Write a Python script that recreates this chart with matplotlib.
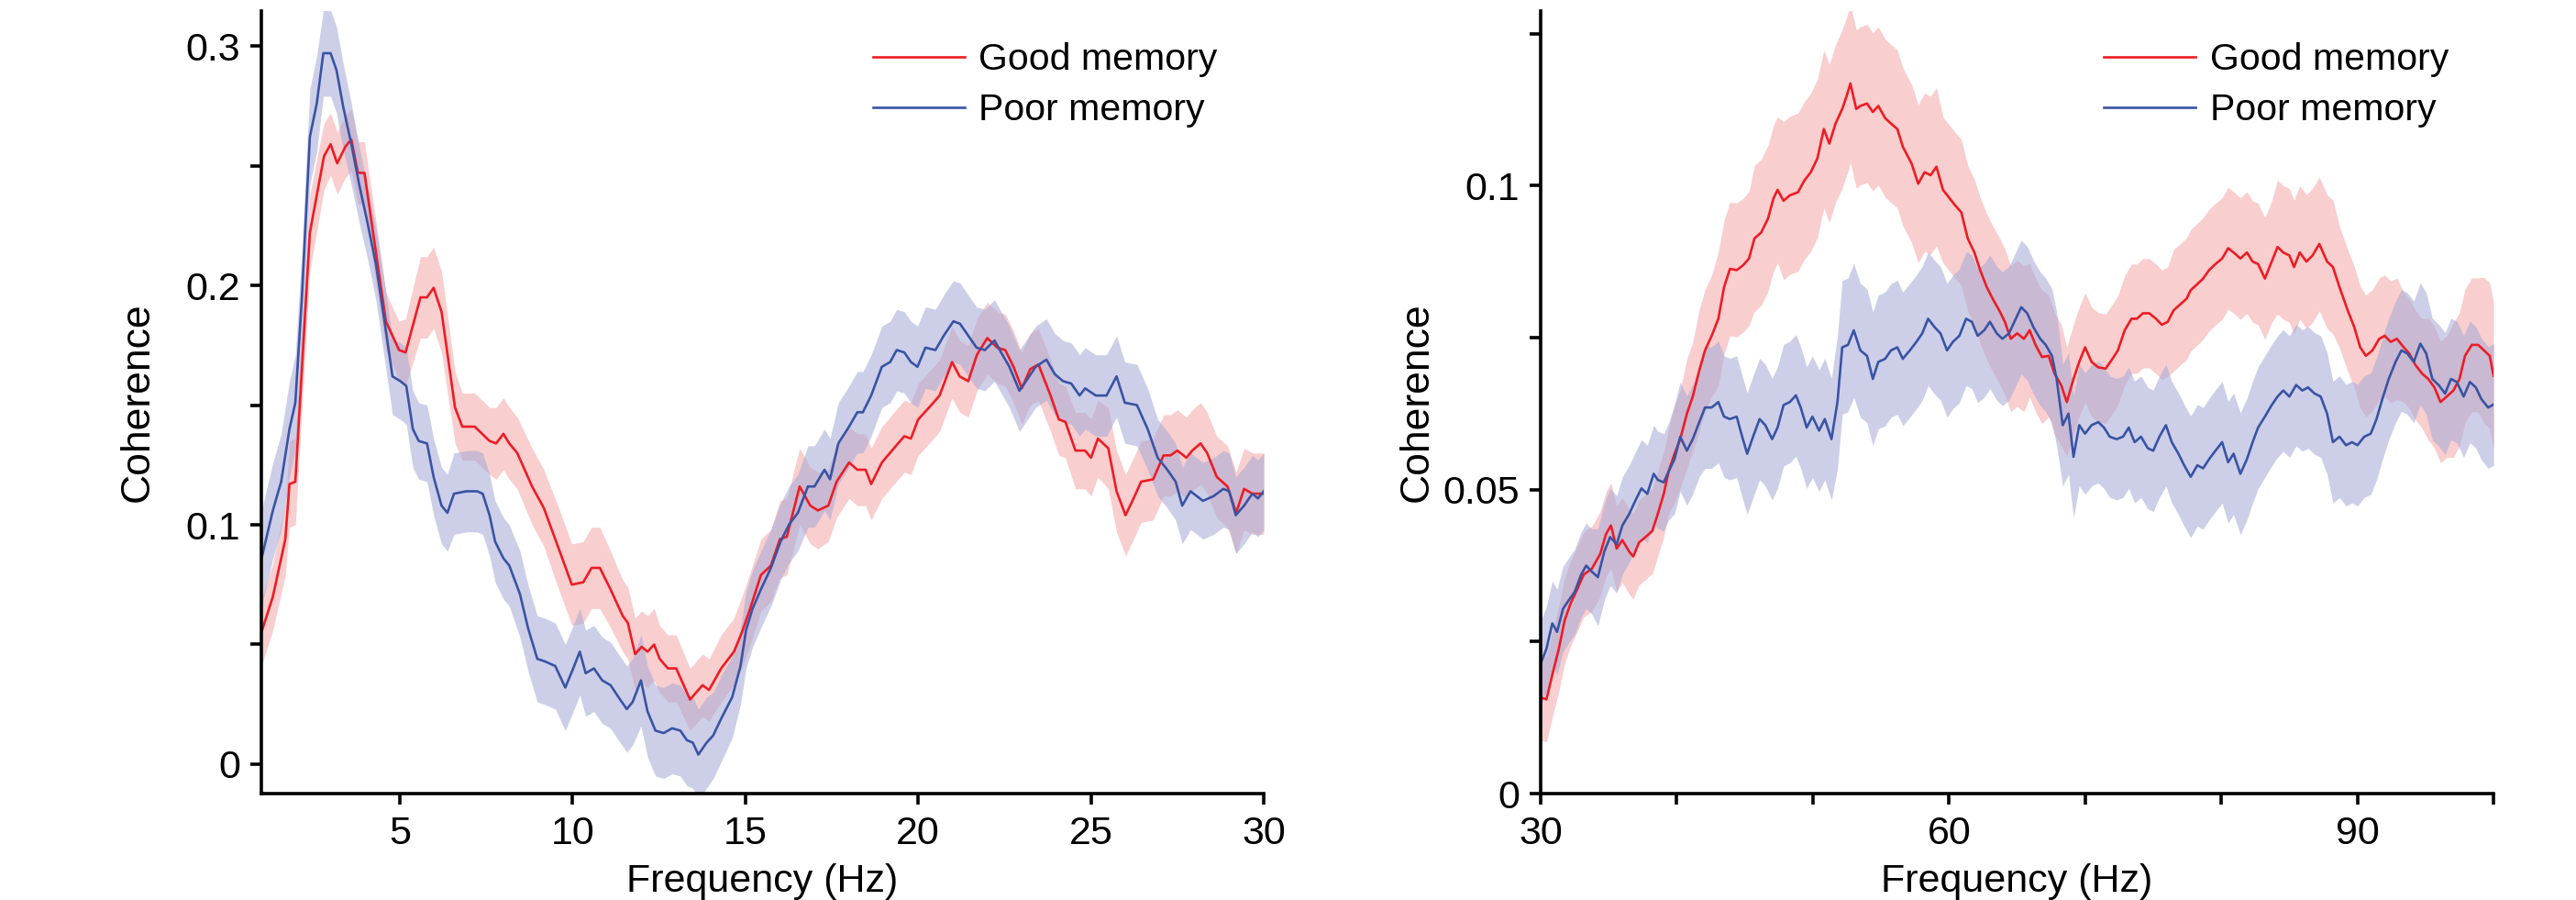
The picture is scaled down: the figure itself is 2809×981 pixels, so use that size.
"""
Coherence spectra, good vs poor memory groups (low and high frequency bands).
"""
import numpy as np
import matplotlib
matplotlib.use("Agg")
import matplotlib.pyplot as plt

plt.rcParams["font.family"] = ["Liberation Sans", "DejaVu Sans"]

RED = "#ed1c24"
BLUE = "#3953a4"
RED_FILL = "#f4a6a9"
BLUE_FILL = "#a5a8d6"

# --- low band (1-30 Hz), good memory ---
freq_good_lo = [1.02, 1.33, 1.69, 1.81, 1.98, 2.40, 2.81, 3.0, 3.19, 3.43,
                3.60, 3.79, 3.98, 4.31, 4.60, 4.98, 5.17, 5.6, 5.79, 5.98,
                6.21, 6.6, 6.81, 7.17, 7.6, 7.79, 8.0, 8.17, 8.4, 8.83,
                9.17, 9.55, 9.98, 10.31, 10.55, 10.79, 11.1, 11.45, 11.6, 11.81,
                12.0, 12.17, 12.36, 12.52, 12.76, 13.0, 13.4, 13.76, 13.95, 14.3,
                14.67, 14.9, 15.14, 15.45, 15.74, 16.0, 16.2, 16.57, 16.88, 17.1,
                17.4, 17.64, 18.0, 18.24, 18.48, 18.64, 18.95, 19.3, 19.6, 19.79,
                20.0, 20.38, 20.62, 20.98, 21.2, 21.45, 21.7, 22.0, 22.29, 22.52,
                22.76, 23.0, 23.24, 23.48, 23.83, 24.07, 24.26, 24.55, 24.83, 25.0,
                25.2, 25.5, 25.74, 26.0, 26.2, 26.45, 26.8, 27.1, 27.3, 27.5,
                27.76, 27.93, 28.17, 28.36, 28.64, 28.95, 29.2, 29.43, 29.67, 30.0]
coh_good_lo = [0.056, 0.070, 0.094, 0.117, 0.118, 0.222, 0.254, 0.259, 0.251, 0.258,
               0.261, 0.247, 0.247, 0.214, 0.185, 0.173, 0.172, 0.195, 0.195, 0.199,
               0.189, 0.149, 0.141, 0.141, 0.135, 0.134, 0.138, 0.134, 0.130, 0.116,
               0.107, 0.092, 0.075, 0.076, 0.082, 0.082, 0.073, 0.062, 0.059, 0.046,
               0.049, 0.047, 0.050, 0.044, 0.040, 0.040, 0.027, 0.033, 0.031, 0.040,
               0.047, 0.055, 0.065, 0.079, 0.083, 0.094, 0.095, 0.116, 0.108, 0.106,
               0.108, 0.118, 0.126, 0.123, 0.123, 0.117, 0.126, 0.132, 0.137, 0.136,
               0.144, 0.150, 0.154, 0.168, 0.162, 0.160, 0.171, 0.178, 0.174, 0.173,
               0.166, 0.157, 0.165, 0.167, 0.154, 0.144, 0.143, 0.131, 0.131, 0.128,
               0.136, 0.132, 0.114, 0.104, 0.110, 0.118, 0.119, 0.129, 0.129, 0.131,
               0.128, 0.131, 0.134, 0.130, 0.120, 0.116, 0.105, 0.115, 0.113, 0.113]
sem_good_lo = [0.014, 0.014, 0.015, 0.018, 0.018, 0.016, 0.014, 0.013, 0.013, 0.013,
               0.013, 0.013, 0.013, 0.013, 0.012, 0.012, 0.014, 0.017, 0.017, 0.017,
               0.017, 0.015, 0.014, 0.014, 0.014, 0.015, 0.015, 0.015, 0.015, 0.016,
               0.016, 0.017, 0.017, 0.017, 0.017, 0.017, 0.016, 0.015, 0.015, 0.015,
               0.015, 0.015, 0.015, 0.014, 0.014, 0.014, 0.013, 0.013, 0.013, 0.014,
               0.014, 0.015, 0.015, 0.015, 0.015, 0.016, 0.016, 0.016, 0.016, 0.016,
               0.015, 0.015, 0.015, 0.015, 0.015, 0.015, 0.015, 0.015, 0.015, 0.015,
               0.015, 0.015, 0.015, 0.015, 0.015, 0.015, 0.015, 0.015, 0.015, 0.015,
               0.015, 0.015, 0.015, 0.015, 0.015, 0.015, 0.015, 0.016, 0.016, 0.016,
               0.016, 0.017, 0.017, 0.017, 0.017, 0.017, 0.017, 0.017, 0.017, 0.017,
               0.017, 0.017, 0.017, 0.017, 0.017, 0.017, 0.017, 0.017, 0.017, 0.017]

# --- low band (1-30 Hz), poor memory ---
freq_poor_lo = [1.02, 1.33, 1.57, 1.81, 1.98, 2.17, 2.40, 2.6, 2.79, 3.0,
                3.17, 3.36, 3.6, 3.83, 4.07, 4.31, 4.55, 4.79, 5.02, 5.19,
                5.38, 5.55, 5.79, 5.98, 6.21, 6.38, 6.57, 6.93, 7.24, 7.4,
                7.6, 7.76, 8.0, 8.17, 8.48, 8.71, 8.98, 9.19, 9.5, 9.79,
                10.02, 10.21, 10.38, 10.62, 10.86, 11.1, 11.33, 11.57, 11.74, 11.98,
                12.17, 12.4, 12.64, 12.88, 13.12, 13.31, 13.48, 13.64, 13.88, 14.07,
                14.3, 14.62, 14.86, 15.02, 15.21, 15.45, 15.74, 16.02, 16.26, 16.52,
                16.81, 17.0, 17.29, 17.45, 17.69, 18.0, 18.24, 18.4, 18.64, 18.95,
                19.19, 19.38, 19.6, 19.79, 19.98, 20.21, 20.5, 20.74, 21.02, 21.21,
                21.45, 21.69, 21.93, 22.21, 22.4, 22.64, 22.93, 23.12, 23.4, 23.71,
                23.95, 24.19, 24.43, 24.67, 24.83, 25.14, 25.45, 25.74, 25.98, 26.33,
                26.64, 26.93, 27.21, 27.45, 27.64, 27.88, 28.24, 28.55, 28.83, 29.0,
                29.19, 29.43, 29.67, 29.83, 30.0]
coh_poor_lo = [0.087, 0.106, 0.118, 0.140, 0.151, 0.195, 0.262, 0.276, 0.297, 0.297,
               0.290, 0.275, 0.259, 0.242, 0.226, 0.209, 0.186, 0.162, 0.160, 0.158,
               0.140, 0.135, 0.134, 0.120, 0.108, 0.105, 0.113, 0.114, 0.114, 0.113,
               0.104, 0.093, 0.086, 0.083, 0.071, 0.057, 0.044, 0.043, 0.041, 0.032,
               0.040, 0.047, 0.038, 0.040, 0.035, 0.033, 0.028, 0.023, 0.026, 0.035,
               0.022, 0.014, 0.013, 0.015, 0.014, 0.010, 0.009, 0.004, 0.009, 0.012,
               0.019, 0.028, 0.041, 0.056, 0.065, 0.073, 0.082, 0.093, 0.100, 0.105,
               0.116, 0.116, 0.123, 0.119, 0.134, 0.141, 0.147, 0.147, 0.154, 0.166,
               0.168, 0.173, 0.172, 0.168, 0.166, 0.174, 0.173, 0.179, 0.185, 0.184,
               0.179, 0.174, 0.173, 0.177, 0.172, 0.166, 0.156, 0.160, 0.166, 0.169,
               0.163, 0.160, 0.159, 0.154, 0.157, 0.154, 0.154, 0.162, 0.151, 0.150,
               0.140, 0.128, 0.123, 0.118, 0.108, 0.114, 0.110, 0.112, 0.115, 0.114,
               0.104, 0.108, 0.113, 0.111, 0.114]
sem_poor_lo = [0.020, 0.020, 0.020, 0.020, 0.020, 0.020, 0.020, 0.020, 0.018, 0.018,
               0.018, 0.018, 0.017, 0.016, 0.015, 0.015, 0.016, 0.016, 0.016, 0.016,
               0.016, 0.016, 0.016, 0.016, 0.016, 0.016, 0.017, 0.017, 0.017, 0.017,
               0.017, 0.017, 0.017, 0.017, 0.018, 0.018, 0.018, 0.018, 0.018, 0.018,
               0.018, 0.018, 0.018, 0.018, 0.018, 0.018, 0.018, 0.018, 0.018, 0.019,
               0.019, 0.019, 0.019, 0.019, 0.019, 0.019, 0.019, 0.019, 0.019, 0.018,
               0.018, 0.017, 0.016, 0.016, 0.016, 0.016, 0.016, 0.016, 0.016, 0.016,
               0.017, 0.017, 0.017, 0.017, 0.017, 0.017, 0.017, 0.017, 0.017, 0.017,
               0.017, 0.017, 0.017, 0.017, 0.017, 0.017, 0.017, 0.017, 0.017, 0.017,
               0.017, 0.017, 0.017, 0.017, 0.017, 0.017, 0.017, 0.017, 0.017, 0.017,
               0.017, 0.017, 0.017, 0.017, 0.017, 0.017, 0.017, 0.017, 0.017, 0.017,
               0.017, 0.016, 0.016, 0.016, 0.016, 0.016, 0.016, 0.016, 0.016, 0.016,
               0.016, 0.016, 0.016, 0.016, 0.016]

# --- high band (30-100 Hz), good memory ---
freq_good_hi = [30.0, 30.42, 30.9, 31.33, 31.76, 32.2, 32.7, 33.15, 33.76, 34.37,
                34.8, 35.16, 35.58, 36.0, 36.5, 36.8, 37.22, 37.7, 38.2, 38.6,
                39.04, 39.4, 39.83, 40.25, 40.74, 41.17, 41.65, 42.07, 42.56, 43.05,
                43.47, 43.9, 44.4, 44.87, 45.3, 45.7, 46.2, 46.7, 47.1, 47.4,
                47.84, 48.3, 48.9, 49.36, 49.84, 50.33, 50.8, 51.2, 51.66, 52.15,
                52.5, 52.75, 53.18, 53.48, 53.97, 54.4, 54.8, 55.3, 55.73, 56.2,
                56.6, 57.25, 57.73, 58.2, 58.64, 59.07, 59.55, 60.04, 60.46, 60.9,
                61.37, 61.86, 62.28, 62.77, 63.2, 63.68, 64.1, 64.53, 65.0, 65.5,
                65.92, 66.35, 66.83, 67.32, 67.74, 68.23, 68.65, 69.14, 69.56, 69.99,
                70.47, 70.96, 71.5, 72.0, 72.4, 72.9, 73.4, 73.8, 74.24, 74.7,
                75.2, 75.63, 76.06, 76.5, 77.0, 77.45, 77.75, 78.24, 78.66, 79.1,
                79.57, 80.06, 80.5, 80.9, 81.4, 81.88, 82.3, 82.7, 83.2, 83.7,
                84.13, 84.55, 85.0, 85.34, 85.76, 86.25, 86.7, 87.2, 87.77, 88.2,
                88.68, 89.28, 89.77, 90.2, 90.62, 91.1, 91.6, 92.0, 92.44, 92.9,
                93.4, 93.8, 94.26, 94.74, 95.2, 95.66, 96.1, 96.56, 97.05, 97.5,
                97.9, 98.4, 98.87, 99.3, 99.72, 100.0]
coh_good_hi = [0.0158, 0.0155, 0.0200, 0.0238, 0.0285, 0.0313, 0.0337, 0.0360, 0.0370, 0.0394,
               0.0427, 0.0441, 0.0403, 0.0417, 0.0398, 0.0390, 0.0413, 0.0422, 0.0432, 0.0460,
               0.0493, 0.0530, 0.0559, 0.0583, 0.0625, 0.0653, 0.0696, 0.0729, 0.0753, 0.0781,
               0.0833, 0.0863, 0.0861, 0.0869, 0.0880, 0.0913, 0.0923, 0.0946, 0.0979, 0.0993,
               0.0975, 0.0984, 0.0989, 0.1008, 0.1022, 0.1045, 0.1093, 0.1069, 0.1102, 0.1126,
               0.1149, 0.1168, 0.1126, 0.1131, 0.1135, 0.1121, 0.1131, 0.1111, 0.1102, 0.1093,
               0.1064, 0.1036, 0.1003, 0.1022, 0.1017, 0.1031, 0.0993, 0.0979, 0.0967, 0.0956,
               0.0913, 0.0890, 0.0861, 0.0833, 0.0814, 0.0795, 0.0776, 0.0748, 0.0757, 0.0748,
               0.0762, 0.0738, 0.0718, 0.0720, 0.0691, 0.0672, 0.0644, 0.0682, 0.0710, 0.0734,
               0.0710, 0.0701, 0.0699, 0.0715, 0.0729, 0.0762, 0.0781, 0.0781, 0.0790, 0.0790,
               0.0781, 0.0771, 0.0776, 0.0795, 0.0805, 0.0814, 0.0828, 0.0838, 0.0847, 0.0861,
               0.0871, 0.0880, 0.0897, 0.0890, 0.0880, 0.0890, 0.0875, 0.0871, 0.0847, 0.0875,
               0.0899, 0.0890, 0.0885, 0.0866, 0.0890, 0.0875, 0.0885, 0.0904, 0.0875, 0.0866,
               0.0833, 0.0795, 0.0767, 0.0734, 0.0720, 0.0729, 0.0748, 0.0753, 0.0743, 0.0748,
               0.0734, 0.0724, 0.0705, 0.0691, 0.0682, 0.0668, 0.0644, 0.0653, 0.0663, 0.0682,
               0.0720, 0.0738, 0.0738, 0.0729, 0.0720, 0.0687]
sem_good_hi = [0.007, 0.007, 0.007, 0.007, 0.007, 0.007, 0.007, 0.007, 0.007, 0.007,
               0.007, 0.007, 0.007, 0.007, 0.007, 0.007, 0.007, 0.007, 0.007, 0.007,
               0.007, 0.007, 0.008, 0.008, 0.009, 0.009, 0.010, 0.010, 0.010, 0.011,
               0.011, 0.011, 0.011, 0.011, 0.011, 0.012, 0.012, 0.012, 0.012, 0.012,
               0.013, 0.013, 0.013, 0.013, 0.013, 0.013, 0.013, 0.013, 0.013, 0.013,
               0.013, 0.013, 0.013, 0.013, 0.013, 0.013, 0.013, 0.013, 0.013, 0.013,
               0.013, 0.013, 0.013, 0.013, 0.013, 0.013, 0.012, 0.012, 0.012, 0.012,
               0.012, 0.012, 0.012, 0.012, 0.012, 0.012, 0.012, 0.012, 0.012, 0.012,
               0.011, 0.011, 0.011, 0.010, 0.010, 0.010, 0.009, 0.009, 0.009, 0.009,
               0.009, 0.009, 0.009, 0.009, 0.009, 0.009, 0.009, 0.009, 0.009, 0.009,
               0.009, 0.009, 0.009, 0.010, 0.010, 0.010, 0.010, 0.010, 0.010, 0.010,
               0.010, 0.010, 0.010, 0.010, 0.010, 0.010, 0.010, 0.010, 0.010, 0.010,
               0.011, 0.011, 0.011, 0.011, 0.011, 0.011, 0.011, 0.011, 0.011, 0.011,
               0.010, 0.010, 0.010, 0.010, 0.010, 0.010, 0.010, 0.010, 0.010, 0.010,
               0.009, 0.009, 0.009, 0.009, 0.010, 0.010, 0.010, 0.010, 0.011, 0.011,
               0.011, 0.011, 0.011, 0.012, 0.012, 0.012]

# --- high band (30-100 Hz), poor memory ---
freq_poor_hi = [30.0, 30.42, 30.85, 31.2, 31.64, 32.06, 32.5, 32.97, 33.34, 33.76,
                34.2, 34.67, 35.1, 35.58, 36.0, 36.5, 36.98, 37.4, 37.83, 38.3,
                38.6, 39.04, 39.4, 39.83, 40.25, 40.74, 41.17, 41.65, 42.07, 42.56,
                43.05, 43.47, 43.9, 44.4, 44.8, 45.17, 45.6, 46.08, 46.5, 47.0,
                47.4, 47.84, 48.3, 48.75, 49.1, 49.54, 49.96, 50.45, 50.87, 51.36,
                51.8, 52.15, 52.57, 53.0, 53.48, 53.97, 54.4, 54.8, 55.3, 55.73,
                56.2, 56.6, 57.12, 57.6, 58.03, 58.46, 58.94, 59.37, 59.85, 60.28,
                60.76, 61.25, 61.67, 62.1, 62.58, 63.0, 63.5, 63.92, 64.4, 64.9,
                65.3, 65.74, 66.2, 66.7, 67.1, 67.56, 67.9, 68.35, 68.77, 69.14,
                69.56, 69.99, 70.47, 70.96, 71.38, 71.8, 72.3, 72.78, 73.2, 73.63,
                74.1, 74.6, 75.0, 75.45, 75.93, 76.36, 76.85, 77.27, 77.75, 78.24,
                78.66, 79.1, 79.57, 80.06, 80.5, 80.9, 81.4, 81.88, 82.3, 82.7,
                83.2, 83.7, 84.13, 84.55, 85.0, 85.5, 85.95, 86.37, 86.85, 87.3,
                87.77, 88.2, 88.68, 89.16, 89.6, 90.0, 90.5, 90.98, 91.4, 91.83,
                92.3, 92.8, 93.23, 93.65, 94.14, 94.62, 95.05, 95.5, 95.96, 96.44,
                96.87, 97.3, 97.8, 98.26, 98.7, 99.1, 99.6, 100.0]
coh_poor_hi = [0.0214, 0.0238, 0.0280, 0.0266, 0.0304, 0.0318, 0.0332, 0.0360, 0.0375, 0.0365,
               0.0356, 0.0398, 0.0422, 0.0410, 0.0441, 0.0460, 0.0483, 0.0502, 0.0493, 0.0526,
               0.0516, 0.0512, 0.0530, 0.0550, 0.0587, 0.0564, 0.0583, 0.0611, 0.0635, 0.0635,
               0.0644, 0.0620, 0.0616, 0.0620, 0.0587, 0.0559, 0.0587, 0.0616, 0.0606, 0.0583,
               0.0602, 0.0639, 0.0644, 0.0655, 0.0635, 0.0602, 0.0620, 0.0597, 0.0616, 0.0583,
               0.0644, 0.0734, 0.0738, 0.0762, 0.0729, 0.0720, 0.0682, 0.0710, 0.0715, 0.0729,
               0.0734, 0.0715, 0.0729, 0.0743, 0.0757, 0.0781, 0.0767, 0.0757, 0.0729, 0.0743,
               0.0753, 0.0781, 0.0776, 0.0753, 0.0762, 0.0776, 0.0757, 0.0748, 0.0757, 0.0781,
               0.0800, 0.0790, 0.0767, 0.0748, 0.0738, 0.0720, 0.0682, 0.0606, 0.0625, 0.0554,
               0.0606, 0.0592, 0.0606, 0.0611, 0.0602, 0.0587, 0.0583, 0.0587, 0.0602, 0.0578,
               0.0587, 0.0568, 0.0564, 0.0587, 0.0606, 0.0578, 0.0559, 0.0540, 0.0521, 0.0540,
               0.0535, 0.0550, 0.0564, 0.0578, 0.0545, 0.0559, 0.0526, 0.0550, 0.0578, 0.0602,
               0.0620, 0.0639, 0.0653, 0.0663, 0.0653, 0.0672, 0.0663, 0.0668, 0.0658, 0.0653,
               0.0625, 0.0578, 0.0587, 0.0573, 0.0578, 0.0573, 0.0587, 0.0592, 0.0616, 0.0649,
               0.0682, 0.0710, 0.0729, 0.0724, 0.0710, 0.0740, 0.0724, 0.0682, 0.0672, 0.0658,
               0.0682, 0.0677, 0.0653, 0.0677, 0.0668, 0.0649, 0.0635, 0.0640]
sem_poor_hi = [0.007, 0.007, 0.007, 0.007, 0.007, 0.007, 0.007, 0.007, 0.007, 0.007,
               0.008, 0.008, 0.008, 0.008, 0.008, 0.008, 0.008, 0.008, 0.008, 0.008,
               0.008, 0.008, 0.008, 0.009, 0.009, 0.009, 0.009, 0.009, 0.010, 0.010,
               0.010, 0.010, 0.010, 0.010, 0.010, 0.010, 0.010, 0.010, 0.010, 0.010,
               0.010, 0.010, 0.010, 0.010, 0.010, 0.010, 0.010, 0.010, 0.010, 0.010,
               0.011, 0.011, 0.011, 0.011, 0.011, 0.011, 0.011, 0.011, 0.011, 0.011,
               0.011, 0.011, 0.011, 0.011, 0.011, 0.011, 0.011, 0.011, 0.011, 0.011,
               0.011, 0.011, 0.011, 0.011, 0.011, 0.011, 0.011, 0.011, 0.011, 0.011,
               0.011, 0.011, 0.011, 0.011, 0.011, 0.011, 0.011, 0.010, 0.010, 0.010,
               0.010, 0.010, 0.010, 0.010, 0.010, 0.010, 0.010, 0.010, 0.010, 0.010,
               0.010, 0.010, 0.010, 0.010, 0.010, 0.010, 0.010, 0.010, 0.010, 0.010,
               0.010, 0.010, 0.010, 0.010, 0.010, 0.010, 0.010, 0.010, 0.010, 0.010,
               0.010, 0.010, 0.010, 0.010, 0.010, 0.010, 0.010, 0.010, 0.010, 0.010,
               0.010, 0.010, 0.010, 0.010, 0.010, 0.010, 0.010, 0.010, 0.010, 0.010,
               0.010, 0.010, 0.010, 0.010, 0.010, 0.010, 0.010, 0.010, 0.010, 0.010,
               0.010, 0.010, 0.010, 0.010, 0.010, 0.010, 0.010, 0.010]


def style(ax):
    for side in ("top", "right"):
        ax.spines[side].set_visible(False)
    for side in ("left", "bottom"):
        ax.spines[side].set_linewidth(2.6)
    ax.tick_params(which="both", direction="out", length=8.5, width=2.6,
                   labelsize=31, colors="black")
    ax.tick_params(axis="x", pad=9)
    ax.tick_params(axis="y", pad=8)


fig = plt.figure(figsize=(28.09, 9.81), dpi=100)
ax1 = fig.add_axes([0.1015, 0.1182, 0.3891, 0.8695])
ax2 = fig.add_axes([0.5981, 0.1182, 0.3699, 0.8695])

panels = [
    (ax1, [(freq_good_lo, coh_good_lo, sem_good_lo), (freq_poor_lo, coh_poor_lo, sem_poor_lo)]),
    (ax2, [(freq_good_hi, coh_good_hi, sem_good_hi), (freq_poor_hi, coh_poor_hi, sem_poor_hi)]),
]
labels = ["Good memory", "Poor memory"]
for ax, series in panels:
    # shaded error bands first, mean lines on top
    for (f, m, s), fc in zip(series, [RED_FILL, BLUE_FILL]):
        m, s = np.asarray(m), np.asarray(s)
        ax.fill_between(f, m - s, m + s, color=fc, alpha=0.55, lw=0)
    for (f, m, s), lc, lab in zip(series, [RED, BLUE], labels):
        ax.plot(f, m, color=lc, lw=1.9, label=lab)
    style(ax)

# left panel axes
ax1.set_xlim(1, 30)
ax1.set_ylim(-0.0123, 0.3146)
ax1.set_xticks([5, 10, 15, 20, 25, 30])
ax1.set_yticks([0, 0.1, 0.2, 0.3])
ax1.set_yticklabels(["0", "0.1", "0.2", "0.3"])
ax1.set_yticks([0.05, 0.15, 0.25], minor=True)

# right panel axes
ax2.set_xlim(30, 100)
ax2.set_ylim(0, 0.1287)
ax2.set_xticks([30, 60, 90])
ax2.set_xticks([40, 50, 70, 80, 100], minor=True)
ax2.set_yticks([0, 0.05, 0.1])
ax2.set_yticklabels(["0", "0.05", "0.1"])
ax2.set_yticks([0.025, 0.075, 0.125], minor=True)

for ax, ylx, legx in [(ax1, -0.105, 0.61), (ax2, -0.110, 0.591)]:
    ax.set_ylabel("Coherence", fontsize=32)
    ax.yaxis.set_label_coords(ylx, 0.5)
    ax.set_xlabel("Frequency (Hz)", fontsize=31)
    ax.xaxis.set_label_coords(0.5, -0.089)
    ax.legend(loc="upper left", bbox_to_anchor=(legx, 0.96), frameon=False,
              fontsize=29.5, handlelength=2.44, handletextpad=0.38,
              labelspacing=0.42, borderpad=0, borderaxespad=0)

fig.savefig("out.png", dpi=100)
